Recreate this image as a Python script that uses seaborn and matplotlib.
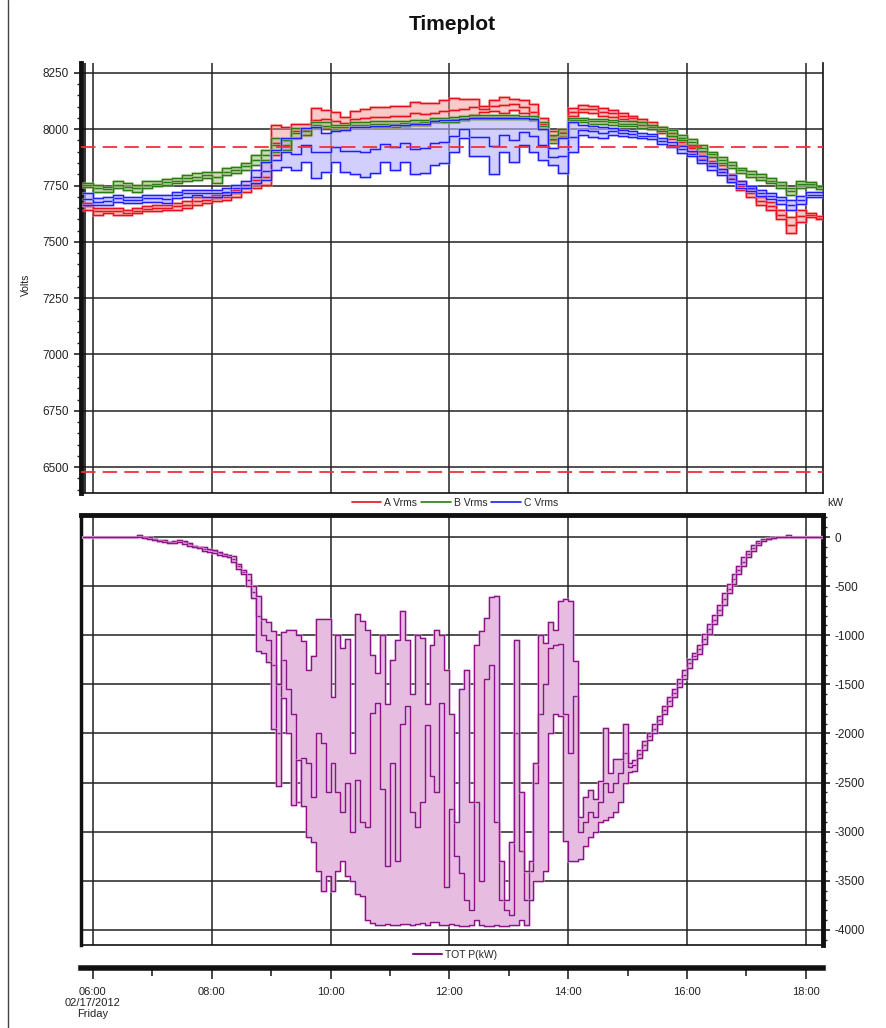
import matplotlib
matplotlib.use('Agg')
import matplotlib.pyplot as plt
import matplotlib.ticker as mticker
import matplotlib.patheffects as pe
from matplotlib.lines import Line2D
import numpy as np
import pandas as pd
import seaborn as sns

# ---- data -------------------------------------------------------------
# phase voltages, 10 minute max/avg/min starting 05:50
volt_start = 5 + 50 / 60
a_max = [7672,
         7650, 7650, 7650, 7642, 7650, 7657, 7664, 7664, 7672, 7680, 7700, 7700,
         7708, 7715, 7730, 7753, 7775, 7856, 8020, 8011, 8022, 8022, 8096, 8086,
         8076, 8054, 8080, 8090, 8100, 8100, 8105, 8105, 8120, 8115, 8115, 8128,
         8138, 8135, 8135, 8105, 8128, 8142, 8135, 8130, 8110, 8050, 7990, 8003,
         8095, 8108, 8105, 8095, 8085, 8070, 8060, 8045, 8030, 8010, 7985, 7960,
         7930, 7900, 7875, 7840, 7800, 7770, 7735, 7700, 7675, 7640, 7610, 7640,
         7630, 7615]
a_avg = [7657,
         7635, 7638, 7635, 7630, 7638, 7646, 7650, 7652, 7657, 7665, 7682, 7686,
         7694, 7700, 7715, 7738, 7756, 7790, 7940, 7950, 7990, 7998, 8040, 8045,
         8038, 8027, 8045, 8050, 8055, 8055, 8058, 8060, 8070, 8068, 8072, 8080,
         8085, 8088, 8100, 8090, 8104, 8106, 8110, 8100, 8075, 8025, 7970, 7986,
         8078, 8092, 8088, 8078, 8070, 8058, 8048, 8032, 8015, 7998, 7970, 7945,
         7915, 7885, 7858, 7825, 7782, 7750, 7718, 7682, 7658, 7620, 7575, 7615,
         7620, 7608]
a_min = [7642,
         7620, 7627, 7620, 7620, 7627, 7635, 7635, 7640, 7642, 7650, 7664, 7672,
         7680, 7686, 7700, 7723, 7738, 7753, 7886, 7908, 7960, 7975, 8004, 8004,
         8000, 8000, 8010, 8010, 8010, 8010, 8012, 8015, 8018, 8020, 8030, 8030,
         8032, 8040, 8065, 8075, 8080, 8070, 8085, 8070, 8040, 8000, 7950, 7970,
         8060, 8075, 8070, 8060, 8055, 8045, 8035, 8020, 8000, 7985, 7955, 7930,
         7900, 7870, 7840, 7810, 7765, 7730, 7700, 7665, 7640, 7600, 7540, 7590,
         7610, 7600]
b_max = [7760,
         7753, 7745, 7768, 7760, 7753, 7768, 7768, 7780, 7783, 7797, 7805, 7812,
         7812, 7827, 7834, 7850, 7886, 7908, 7960, 7953, 8004, 8004, 8034, 8030,
         8020, 8020, 8030, 8030, 8035, 8035, 8035, 8038, 8040, 8040, 8050, 8052,
         8055, 8060, 8062, 8062, 8062, 8062, 8062, 8060, 8060, 8030, 7975, 8000,
         8052, 8048, 8045, 8045, 8042, 8035, 8035, 8030, 8020, 8010, 7995, 7975,
         7955, 7930, 7900, 7875, 7855, 7830, 7815, 7800, 7785, 7765, 7740, 7770,
         7765, 7750]
b_avg = [7752,
         7738, 7734, 7753, 7745, 7738, 7753, 7759, 7766, 7771, 7782, 7790, 7797,
         7786, 7812, 7820, 7835, 7864, 7886, 7930, 7930, 7982, 7990, 8019, 8015,
         8008, 8008, 8020, 8020, 8022, 8022, 8024, 8026, 8029, 8030, 8040, 8041,
         8044, 8050, 8054, 8054, 8054, 8054, 8054, 8052, 8050, 8015, 7958, 7982,
         8041, 8039, 8035, 8035, 8031, 8025, 8025, 8018, 8010, 8000, 7982, 7962,
         7942, 7918, 7888, 7862, 7842, 7818, 7802, 7788, 7772, 7752, 7725, 7755,
         7755, 7742]
b_min = [7745,
         7723, 7723, 7738, 7730, 7723, 7738, 7750, 7753, 7760, 7768, 7775, 7783,
         7760, 7797, 7805, 7820, 7842, 7864, 7900, 7908, 7960, 7975, 8004, 8000,
         7995, 7995, 8010, 8010, 8010, 8010, 8012, 8015, 8018, 8020, 8030, 8030,
         8032, 8040, 8045, 8045, 8045, 8045, 8045, 8045, 8040, 8000, 7940, 7965,
         8030, 8030, 8025, 8025, 8020, 8015, 8015, 8005, 8000, 7990, 7970, 7950,
         7930, 7905, 7875, 7850, 7830, 7805, 7790, 7775, 7760, 7740, 7710, 7740,
         7745, 7735]
c_max = [7716,
         7694, 7700, 7708, 7700, 7700, 7708, 7708, 7708, 7723, 7730, 7730, 7730,
         7730, 7738, 7753, 7768, 7820, 7856, 7908, 7960, 7960, 8004, 8012, 7982,
         7990, 7995, 8010, 8012, 8015, 8015, 8018, 8020, 8022, 8025, 8035, 8040,
         8040, 8045, 8050, 8050, 8050, 8050, 8050, 8048, 8045, 8000, 7915, 7960,
         8030, 8018, 8015, 8010, 8005, 7995, 7990, 7985, 7980, 7960, 7945, 7925,
         7905, 7880, 7850, 7825, 7795, 7770, 7750, 7730, 7715, 7700, 7685, 7705,
         7720, 7720]
c_avg = [7690,
         7679, 7682, 7693, 7686, 7686, 7693, 7693, 7690, 7708, 7715, 7719, 7715,
         7715, 7723, 7738, 7753, 7790, 7815, 7864, 7897, 7890, 7930, 7898, 7897,
         7922, 7902, 7905, 7901, 7910, 7935, 7919, 7937, 7911, 7915, 7937, 7945,
         7970, 8002, 7965, 7965, 7925, 7975, 7952, 7989, 7972, 7932, 7878, 7882,
         7965, 7996, 7990, 7985, 7990, 7982, 7978, 7972, 7968, 7948, 7932, 7910,
         7892, 7865, 7835, 7810, 7780, 7755, 7738, 7718, 7702, 7685, 7662, 7688,
         7710, 7710]
c_min = [7664,
         7664, 7664, 7679, 7672, 7672, 7679, 7679, 7672, 7694, 7700, 7708, 7700,
         7700, 7708, 7723, 7738, 7760, 7775, 7820, 7834, 7820, 7856, 7783, 7812,
         7855, 7810, 7800, 7790, 7805, 7855, 7820, 7855, 7800, 7805, 7840, 7850,
         7900, 7960, 7880, 7880, 7800, 7900, 7855, 7930, 7900, 7865, 7840, 7805,
         7900, 7975, 7965, 7960, 7975, 7970, 7965, 7960, 7955, 7935, 7920, 7895,
         7880, 7850, 7820, 7795, 7765, 7740, 7725, 7705, 7690, 7670, 7640, 7670,
         7700, 7700]
volt_limits = [7920, 6480]

# total power, 5 minute max/avg/min starting 05:50
power_start = 5 + 50 / 60
p_max = [0, 0,
         0, 0, 0, 0, 0, 0, 0, 0, 5, 25, 0, -5,
         -20, -30, -35, -50, -40, -35, -40, -60, -90, -100, -100, -120,
         -130, -150, -170, -180, -190, -270, -340, -380, -500, -600, -830, -870,
         -960, -1500, -970, -950, -950, -1000, -1060, -1350, -1210, -830, -830, -830,
         -1630, -1000, -1130, -1040, -2200, -780, -850, -950, -1200, -1380, -1000, -1700,
         -1250, -1050, -750, -1050, -1600, -1000, -1030, -1700, -1100, -950, -1000, -1350,
         -1800, -2900, -1550, -1350, -2700, -1100, -960, -820, -610, -600, -3300, -3700,
         -3100, -1050, -2600, -3400, -3300, -2300, -1000, -1080, -870, -950, -650, -630,
         -650, -1260, -2850, -2650, -2580, -2670, -2480, -1940, -2400, -2260, -2260, -1900,
         -2300, -2270, -2170, -2080, -2000, -1900, -1820, -1720, -1630, -1550, -1450, -1350,
         -1240, -1180, -1100, -990, -890, -790, -690, -570, -480, -375, -300, -205,
         -145, -80, -45, -25, -10, -5, 0, 0, 20, 0, 0, 0,
         0, 0, 0, 0]
p_avg = [0, 0,
         0, 0, 0, 0, 0, 0, 0, 0, 0, 10, -5, -10,
         -25, -40, -45, -55, -50, -40, -55, -75, -95, -105, -120, -135,
         -145, -165, -180, -190, -220, -300, -360, -440, -560, -800, -1000, -1050,
         -1300, -2000, -1250, -1550, -1800, -2700, -2250, -2300, -2650, -2000, -2100, -2600,
         -2300, -2600, -2800, -2500, -3000, -2470, -2900, -2950, -1790, -1690, -2570, -3350,
         -2300, -3300, -1900, -1720, -2800, -2950, -2700, -1910, -2430, -2600, -1690, -3560,
         -2770, -3250, -3420, -3700, -3800, -2700, -3500, -1450, -1300, -2900, -3700, -3800,
         -3850, -2000, -3200, -3700, -3400, -2500, -1800, -1500, -1130, -1100, -1090, -1800,
         -2200, -1620, -3000, -2900, -2800, -2850, -2700, -2500, -2600, -2500, -2400, -2200,
         -2340, -2320, -2210, -2120, -2030, -1950, -1860, -1760, -1670, -1590, -1490, -1400,
         -1285, -1210, -1145, -1040, -940, -840, -740, -630, -525, -425, -340, -250,
         -175, -110, -60, -35, -18, -8, -2, 0, 5, 0, 0, 0,
         0, 0, 0, 0]
p_min = [0, 0,
         0, 0, 0, 0, 0, 0, 0, 0, 0, 0, -10, -20,
         -35, -45, -55, -60, -60, -50, -70, -90, -100, -110, -140, -150,
         -160, -180, -190, -200, -250, -330, -380, -500, -620, -1160, -1180, -1270,
         -1950, -2530, -1640, -2000, -2730, -2270, -2740, -3050, -3100, -3400, -3600, -3450,
         -3600, -3400, -3300, -3450, -3500, -3630, -3650, -3900, -3930, -3950, -3950, -3940,
         -3950, -3950, -3940, -3940, -3950, -3940, -3930, -3950, -3920, -3920, -3950, -3950,
         -3940, -3950, -3960, -3960, -3950, -3900, -3950, -3960, -3960, -3950, -3960, -3960,
         -3950, -3950, -3900, -3950, -3700, -3500, -3500, -3400, -2000, -1800, -1820, -3090,
         -3300, -3300, -3280, -3150, -3050, -3000, -2900, -2880, -2850, -2800, -2700, -2500,
         -2390, -2380, -2250, -2170, -2070, -2000, -1900, -1800, -1720, -1630, -1530, -1450,
         -1330, -1240, -1190, -1090, -990, -890, -790, -690, -570, -480, -375, -300,
         -205, -145, -80, -45, -25, -10, -5, 0, 0, 0, 0, 0,
         0, 0, 0, 0]

hour_ticks = [6, 8, 10, 12, 14, 16, 18]
hour_labels = ['06:00\n02/17/2012\nFriday', '08:00', '10:00', '12:00',
               '14:00', '16:00', '18:00']

# ---- style ------------------------------------------------------------
sns.set_theme(style='white')
plt.rcParams['font.family'] = ['Liberation Sans Narrow', 'Liberation Sans', 'DejaVu Sans']
plt.rcParams['axes.unicode_minus'] = False

XMIN, XMAX = 5.80, 18.29
GRID = dict(color='#222222', lw=1.1)


def steps(start, values, per_hour):
    t = start + np.arange(len(values) + 1) / per_hour
    return t, np.append(values, values[-1])


def envelope(ax, start, hi, mid, lo, per_hour, color, fill, alpha):
    t, hi_e = steps(start, hi, per_hour)
    _, mid_e = steps(start, mid, per_hour)
    _, lo_e = steps(start, lo, per_hour)
    ax.fill_between(t, lo_e, hi_e, step='post', color=fill, alpha=alpha,
                    lw=0, zorder=2)
    n = len(t)
    df = pd.DataFrame({'t': np.concatenate([t, t, t]),
                       'v': np.concatenate([hi_e, mid_e, lo_e]),
                       'line': ['max'] * n + ['avg'] * n + ['min'] * n})
    sns.lineplot(data=df, x='t', y='v', units='line', estimator=None,
                 color=color, lw=1.0, drawstyle='steps-post', ax=ax,
                 zorder=3, legend=False,
                 path_effects=[pe.Stroke(linewidth=2.3, foreground=fill, alpha=0.55),
                               pe.Normal()])


fig = plt.figure(figsize=(8.87, 10.28), dpi=100)
L, W = 81 / 887, 742 / 887
ax1 = fig.add_axes([L, 1 - 493 / 1028, W, 430 / 1028])
ax2 = fig.add_axes([L, 1 - 945 / 1028, W, 430 / 1028])
ax3 = fig.add_axes([L, 1 - 968 / 1028, W, 0.0001])

# ---- voltage panel ----------------------------------------------------
envelope(ax1, volt_start, a_max, a_avg, a_min, 6, '#e8101c', '#f08a8a', 0.45)
envelope(ax1, volt_start, b_max, b_avg, b_min, 6, '#2a7d12', '#a9c08a', 0.55)
envelope(ax1, volt_start, c_max, c_avg, c_min, 6, '#1e1eff', '#b4b0ff', 0.6)
for lim in volt_limits:
    ax1.axhline(lim, color='#f0303a', lw=1.3, dashes=(8, 4), zorder=4)

ax1.set_xlim(XMIN, XMAX)
ax1.set_ylim(6385, 8294)
ax1.set_xticks(hour_ticks)
ax1.set_xticklabels([])
ax1.yaxis.set_major_locator(mticker.MultipleLocator(250))
ax1.yaxis.set_minor_locator(mticker.MultipleLocator(50))
ax1.tick_params(axis='y', which='major', left=True, direction='out', length=5,
                width=1.2, labelsize=8.5, pad=4, colors='#222222')
ax1.tick_params(axis='y', which='minor', left=True, direction='out', length=3, width=1)
ax1.tick_params(axis='x', length=0)
ax1.grid(True, which='major', **GRID)
ax1.set_axisbelow(True)
ax1.set_xlabel('')
ax1.set_ylabel('')
ax1.spines['top'].set_visible(False)
ax1.spines['left'].set_linewidth(3.5)
ax1.spines['right'].set_linewidth(1.2)
ax1.spines['bottom'].set_linewidth(1.2)
for s in ax1.spines.values():
    s.set_color('#111111')
ax1.axvline(XMIN + 0.07, color='#111111', lw=1.2, zorder=1)

# ---- power panel ------------------------------------------------------
envelope(ax2, power_start, p_max, p_avg, p_min, 12, '#8a1487', '#e6bde1', 1.0)
ax2.set_xlim(XMIN, XMAX)
ax2.set_ylim(-4153, 224)
ax2.set_xticks(hour_ticks)
ax2.set_xticklabels([])
ax2.yaxis.tick_right()
ax2.yaxis.set_major_locator(mticker.MultipleLocator(500))
ax2.yaxis.set_minor_locator(mticker.MultipleLocator(100))
ax2.yaxis.set_major_formatter(mticker.FuncFormatter(lambda v, p: f'{v:.0f}'))
ax2.tick_params(axis='y', which='major', right=True, direction='out', length=5,
                width=1.2, labelsize=8.5, pad=3, colors='#222222')
ax2.tick_params(axis='y', which='minor', right=True, direction='out', length=3, width=1)
ax2.tick_params(axis='x', length=0)
ax2.grid(True, which='major', **GRID)
ax2.set_axisbelow(True)
ax2.set_xlabel('')
ax2.set_ylabel('')
ax2.spines['top'].set_linewidth(3.5)
ax2.spines['right'].set_linewidth(3.5)
ax2.spines['left'].set_linewidth(2.5)
ax2.spines['bottom'].set_linewidth(1.2)
for s in ax2.spines.values():
    s.set_color('#111111')

# ---- separate time axis ----------------------------------------------
ax3.set_xlim(XMIN, XMAX)
ax3.set_yticks([])
ax3.set_facecolor('none')
for side in ['top', 'left', 'right']:
    ax3.spines[side].set_visible(False)
ax3.spines['bottom'].set_linewidth(4)
ax3.spines['bottom'].set_color('#111111')
ax3.set_xticks(hour_ticks)
ax3.set_xticklabels(hour_labels, fontsize=8, color='#222222', linespacing=1.1)
ax3.xaxis.set_minor_locator(mticker.FixedLocator([7, 9, 11, 13, 15, 17]))
ax3.tick_params(axis='x', which='major', bottom=True, direction='out', length=8,
                width=1.2, pad=6)
ax3.tick_params(axis='x', which='minor', bottom=True, direction='out', length=6, width=1.2)

# ---- legends and texts -----------------------------------------------
v_handles = [Line2D([], [], color=c, lw=1.2) for c in ['#e8101c', '#2a7d12', '#1e1eff']]
fig.legend(v_handles, ['A Vrms', 'B Vrms', 'C Vrms'], loc='center',
           bbox_to_anchor=(455 / 887, 1 - 503 / 1028), ncol=3, frameon=False,
           fontsize=7.5, handlelength=2.8, handletextpad=0.3, columnspacing=0.4)
fig.legend([Line2D([], [], color='#8a1487', lw=1.5)], ['TOT P(kW)'], loc='center',
           bbox_to_anchor=(455 / 887, 1 - 955 / 1028), frameon=False,
           fontsize=7.5, handlelength=2.8, handletextpad=0.3)

fig.text(452 / 887, 1 - 25 / 1028, 'Timeplot', ha='center', va='center',
         fontsize=15, fontweight='bold', family=['Liberation Sans', 'DejaVu Sans'],
         color='#111111')
fig.text(26 / 887, 1 - 285 / 1028, 'Volts', rotation=90, ha='center', va='center',
         fontsize=7.5, color='#222222')
fig.text(835 / 887, 1 - 503 / 1028, 'kW', ha='center', va='center',
         fontsize=8, color='#222222')
fig.add_artist(Line2D([8 / 887, 8 / 887], [0, 1], color='#444444', lw=1))

fig.savefig('out.png', dpi=100)
